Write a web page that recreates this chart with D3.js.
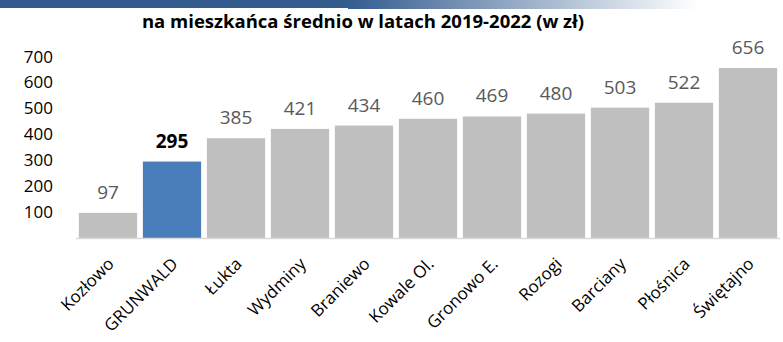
<!DOCTYPE html>
<html>
<head>
<meta charset="utf-8">
<script src="https://cdn.jsdelivr.net/npm/d3@7"></script>
<style>
  body { margin: 0; background: #fff; }
  text { font-family: "Open Sans", sans-serif; }
</style>
</head>
<body>
<div id="chart"></div>
<script>
// data
var gminy = ["Kozłowo", "GRUNWALD", "Łukta", "Wydminy", "Braniewo", "Kowale Ol.",
             "Gronowo E.", "Rozogi", "Barciany", "Płośnica", "Świętajno"]
var wartosci = [97, 295, 385, 421, 434, 460, 469, 480, 503, 522, 656]
var yTicks = [100, 200, 300, 400, 500, 600, 700]
var wyrozniona = "GRUNWALD"

var width = 783,
    height = 342

var svg = d3.select("#chart")
  .append("svg")
    .attr("width", width)
    .attr("height", height)

// header stripe
var defs = svg.append("defs")
var grad = defs.append("linearGradient").attr("id", "fade")
grad.append("stop").attr("offset", "0%").attr("stop-color", "#345c8f")
grad.append("stop").attr("offset", "100%").attr("stop-color", "#345c8f").attr("stop-opacity", 0)
svg.append("rect").attr("x", 0).attr("y", 0).attr("width", 348).attr("height", 8).attr("fill", "#345c8f")
svg.append("rect").attr("x", 348).attr("y", 0).attr("width", 350).attr("height", 9).attr("fill", "url(#fade)")

// title
svg.append("text")
  .attr("x", 363)
  .attr("y", 28)
  .attr("text-anchor", "middle")
  .style("font-size", "18.5px")
  .style("font-weight", "bold")
  .attr("fill", "#000")
  .text("na mieszkańca średnio w latach 2019-2022 (w zł)")

var x = d3.scaleBand()
  .domain(gminy)
  .range([76, 780])
  .paddingInner(0.09)
  .paddingOuter(0.045)

var y = d3.scaleLinear()
  .domain([0, 700])
  .range([238, 56.6])

// y tick labels (no axis line)
svg.append("g")
  .attr("transform", "translate(53,0)")
  .call(d3.axisLeft(y).tickValues(yTicks).tickSize(0).tickPadding(0))
  .call(function(g) { g.select(".domain").remove() })
  .selectAll("text")
    .style("font-size", "17px")
    .style("font-family", "'Open Sans', sans-serif")
    .attr("fill", "#000")

// bars
svg.selectAll(".bar")
  .data(wartosci)
  .enter()
  .append("rect")
    .attr("class", "bar")
    .attr("x", function(d, i) { return x(gminy[i]) })
    .attr("y", function(d) { return y(d) })
    .attr("width", x.bandwidth())
    .attr("height", function(d) { return y(0) - y(d) })
    .attr("fill", function(d, i) { return gminy[i] == wyrozniona ? "#4a7ebb" : "#bfbfbf" })

// baseline
svg.append("line")
  .attr("x1", 76).attr("x2", 780)
  .attr("y1", y(0) + 0.5).attr("y2", y(0) + 0.5)
  .attr("stroke", "#d9d9d9")
  .attr("stroke-width", 1.5)

// value labels
svg.selectAll(".val")
  .data(wartosci)
  .enter()
  .append("text")
    .attr("class", "val")
    .attr("x", function(d, i) { return x(gminy[i]) + x.bandwidth() / 2 })
    .attr("y", function(d) { return y(d) - 14 })
    .attr("text-anchor", "middle")
    .style("font-size", "19px")
    .style("font-weight", function(d, i) { return gminy[i] == wyrozniona ? "bold" : "normal" })
    .attr("fill", function(d, i) { return gminy[i] == wyrozniona ? "#000" : "#595959" })
    .text(function(d) { return d })

// category labels
svg.selectAll(".cat")
  .data(gminy)
  .enter()
  .append("text")
    .attr("class", "cat")
    .attr("transform", function(d) {
      return "translate(" + (x(d) + x.bandwidth() / 2 + 7) + ",265) rotate(-45)"
    })
    .attr("text-anchor", "end")
    .style("font-size", "17px")
    .attr("fill", "#000")
    .text(function(d) { return d })
</script>
</body>
</html>
